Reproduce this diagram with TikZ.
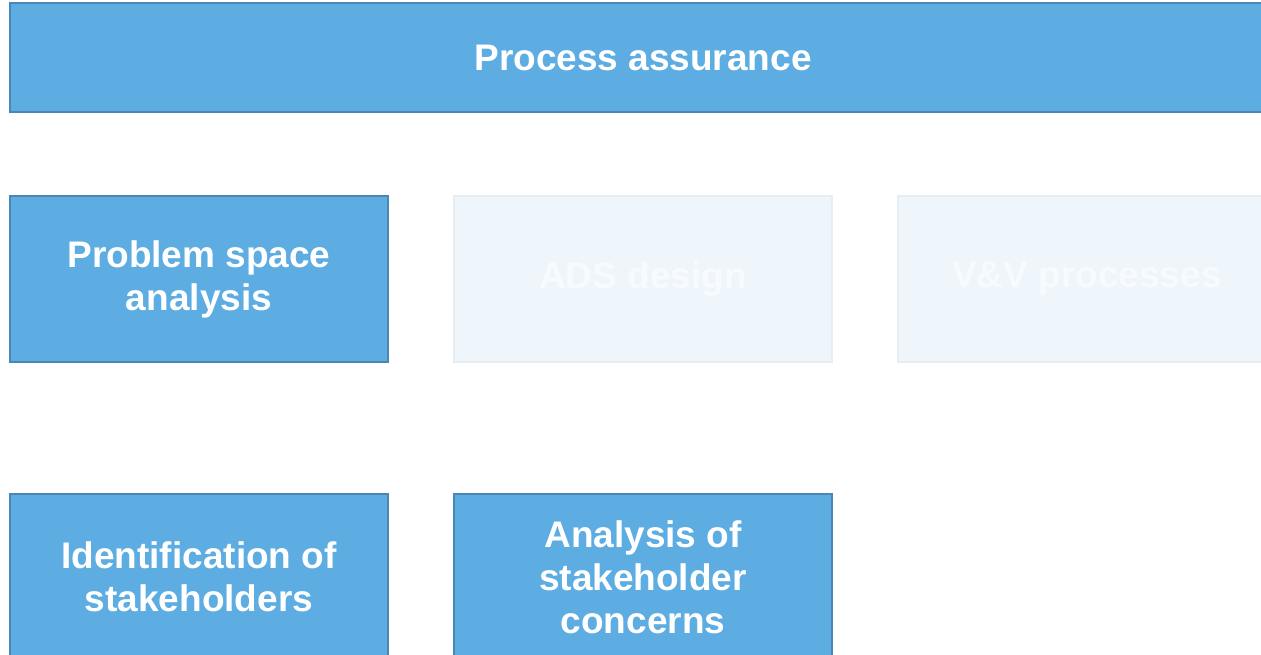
\documentclass[tikz,border=0pt]{standalone}
\usepackage{fontspec}
\setmainfont{Liberation Sans}
\usepackage{tikz}
\usetikzlibrary{positioning}
\definecolor{boxblue}{HTML}{5DADE2}
\definecolor{boxedge}{HTML}{4A87B5}
\definecolor{fadefill}{HTML}{EEF5FB}
\definecolor{fadeedge}{HTML}{E6EDF3}
\definecolor{fadetext}{HTML}{F8FBFE}

\begin{document}
\begin{tikzpicture}[x=1pt,y=-1pt]
\tikzstyle{every node}+=[inner sep=0pt,align=center,font=\fontsize{37}{43}\selectfont\bfseries]
\tikzstyle{activity}=[draw=boxedge,line width=2pt,fill=boxblue,text=white,minimum width=378pt,minimum height=166pt]
\tikzstyle{faded}=[draw=fadeedge,line width=2pt,fill=fadefill,text=fadetext,minimum width=378pt,minimum height=166pt]
\clip (0,0) rectangle (1261,655);
\node [activity,minimum width=1266pt,minimum height=109pt] (assurance) at (643,57.5) {Process assurance};
\node [activity] (problem) at (199,279) {Problem space\\analysis};
\node [faded] (design) at (643,279) {ADS design};
\node [faded] (vv) at (1087,279) {V\&V processes};
\node [activity] (stakeholders) at (199,577) {Identification of\\stakeholders};
\node [activity] (concerns) at (643,577) {Analysis of\\stakeholder\\concerns};
\end{tikzpicture}
\end{document}
